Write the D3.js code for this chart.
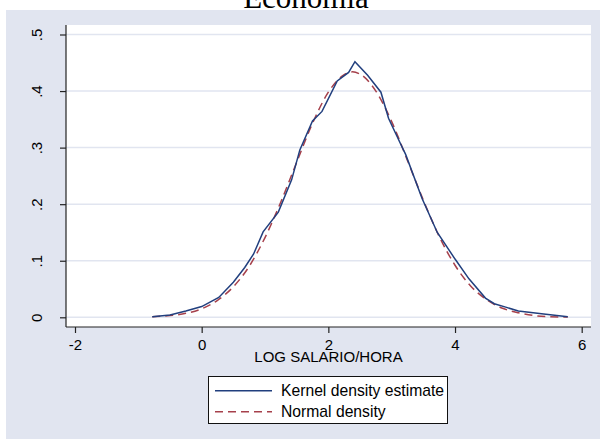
<!DOCTYPE html>
<html>
<head>
<meta charset="utf-8">
<script src="https://cdn.jsdelivr.net/npm/d3@7"></script>
<style>
    body { margin: 0; background: #ffffff; }
    text { font-family: "Liberation Sans", Arial, sans-serif; fill: #000; }
    .title { font-family: "Liberation Serif", "Times New Roman", serif; }
</style>
</head>
<body>
<div id="container"></div>
<script>
// kernel density estimate
var kernel_x = [-0.78, -0.5, -0.25, 0.0, 0.27, 0.5, 0.68, 0.82, 0.97, 1.21, 1.42, 1.55, 1.75, 1.90, 2.14, 2.32, 2.42, 2.62, 2.83, 2.95, 3.16, 3.22, 3.48, 3.72, 4.0, 4.22, 4.48, 4.62, 4.8, 5.0, 5.4, 5.78];
var kernel_y = [0.001, 0.004, 0.011, 0.019, 0.035, 0.062, 0.088, 0.112, 0.151, 0.186, 0.243, 0.296, 0.347, 0.364, 0.418, 0.433, 0.452, 0.428, 0.398, 0.352, 0.302, 0.288, 0.21, 0.15, 0.103, 0.068, 0.034, 0.024, 0.018, 0.011, 0.006, 0.001];

// normal density
var normal_x = [-0.78, -0.5, -0.25, 0.0, 0.25, 0.5, 0.75, 1.0, 1.25, 1.5, 1.75, 2.0, 2.25, 2.38, 2.5, 2.75, 3.0, 3.25, 3.5, 3.75, 4.0, 4.25, 4.5, 4.75, 5.0, 5.25, 5.5, 5.78];
var normal_y = [0.001, 0.003, 0.007, 0.015, 0.030, 0.054, 0.090, 0.141, 0.204, 0.274, 0.343, 0.398, 0.429, 0.434, 0.430, 0.400, 0.346, 0.277, 0.207, 0.143, 0.092, 0.055, 0.031, 0.016, 0.008, 0.003, 0.001, 0.0005];

var x_ticks = [-2, 0, 2, 4, 6];
var y_ticks = [0, 0.1, 0.2, 0.3, 0.4, 0.5];
var y_labels = ["0", ".1", ".2", ".3", ".4", ".5"];
var legend_labels = ["Kernel density estimate", "Normal density"];

var init = function(){

    var container = d3.select("#container");
    container.html("");

    var width = 600, height = 439;
    var bg = "#e1e5f0";
    var navy = "#213f7e";
    var maroon = "#a6404b";

    var svg = container.append("svg")
	.attr("width", width)
	.attr("height", height);

    // graph region
    svg.append("rect")
	.attr("x", 6).attr("y", 10)
	.attr("width", width - 6).attr("height", height - 10)
	.attr("fill", bg);

    // plot region
    var plot = {left: 66, right: 591, top: 25, bottom: 327};
    svg.append("rect")
	.attr("x", plot.left).attr("y", plot.top)
	.attr("width", plot.right - plot.left)
	.attr("height", plot.bottom - plot.top)
	.attr("fill", "#ffffff");

    var x = d3.scaleLinear().domain([-2, 6]).range([75, 581.7]);
    var y = d3.scaleLinear().domain([0, 0.5]).range([317.3, 34.5]);

    // title, mostly cut off at the top
    svg.append("text")
	.classed("title", true)
	.attr("x", 306).attr("y", 8)
	.attr("text-anchor", "middle")
	.style("font-size", "31px")
	.text("Economia");

    // grid lines
    svg.append("g").selectAll("line")
	.data(y_ticks).enter().append("line")
	.attr("x1", plot.left).attr("x2", plot.right)
	.attr("y1", function(d){ return y(d); })
	.attr("y2", function(d){ return y(d); })
	.attr("stroke", bg)
	.attr("stroke-width", 1.5);

    // y axis
    var y_axis = d3.axisLeft(y)
	.tickValues(y_ticks)
	.tickSize(6)
	.tickFormat(function(d, i){ return y_labels[i]; });
    var gy = svg.append("g")
	.attr("transform", "translate(" + plot.left + ",0)")
	.call(y_axis);
    gy.select(".domain").attr("d", "M0," + plot.top + "V" + plot.bottom);
    gy.selectAll("line, path").attr("stroke", "#222").attr("stroke-width", 1.2);
    gy.selectAll("text")
	.style("font-size", "15px")
	.attr("x", null).attr("dy", null)
	.attr("text-anchor", "middle")
	.attr("transform", "translate(-29,0) rotate(-90)")
	.attr("y", 5);

    // x axis
    var x_axis = d3.axisBottom(x)
	.tickValues(x_ticks)
	.tickSize(6)
	.tickFormat(function(d){ return String(d); });
    var gx = svg.append("g")
	.attr("transform", "translate(0," + plot.bottom + ")")
	.call(x_axis);
    gx.select(".domain").attr("d", "M" + plot.left + ",0H" + plot.right);
    gx.selectAll("line, path").attr("stroke", "#222").attr("stroke-width", 1.2);
    gx.selectAll("text")
	.style("font-size", "15px")
	.attr("dy", null)
	.attr("y", 23);

    svg.append("text")
	.attr("x", (plot.left + plot.right) / 2).attr("y", 362)
	.attr("text-anchor", "middle")
	.style("font-size", "15px")
	.text("LOG SALARIO/HORA");

    // curves
    var kernel = kernel_x.map(function(v, i){ return [v, kernel_y[i]]; });
    var normal = normal_x.map(function(v, i){ return [v, normal_y[i]]; });

    var line = d3.line()
	.x(function(d){ return x(d[0]); })
	.y(function(d){ return y(d[1]); });

    svg.append("path")
	.datum(normal)
	.attr("d", line.curve(d3.curveMonotoneX))
	.attr("fill", "none")
	.attr("stroke", maroon)
	.attr("stroke-width", 1.5)
	.attr("stroke-dasharray", "8,5");

    svg.append("path")
	.datum(kernel)
	.attr("d", line.curve(d3.curveLinear))
	.attr("fill", "none")
	.attr("stroke", navy)
	.attr("stroke-width", 1.5);

    // legend
    var legend = svg.append("g");
    legend.append("rect")
	.attr("x", 208.5).attr("y", 376.5)
	.attr("width", 239).attr("height", 47)
	.attr("fill", "#ffffff")
	.attr("stroke", "#111")
	.attr("stroke-width", 1);

    legend_labels.forEach(function(label, i){
	var ly = 390.7 + i * 21;
	legend.append("line")
	    .attr("x1", 215).attr("x2", 272)
	    .attr("y1", ly).attr("y2", ly)
	    .attr("stroke", i == 0 ? navy : maroon)
	    .attr("stroke-width", 1.5)
	    .attr("stroke-dasharray", i == 0 ? null : "8,5");
	legend.append("text")
	    .attr("x", 281).attr("y", ly + 5.5)
	    .style("font-size", "15.7px")
	    .text(label);
    });
}

init();
</script>
</body>
</html>
